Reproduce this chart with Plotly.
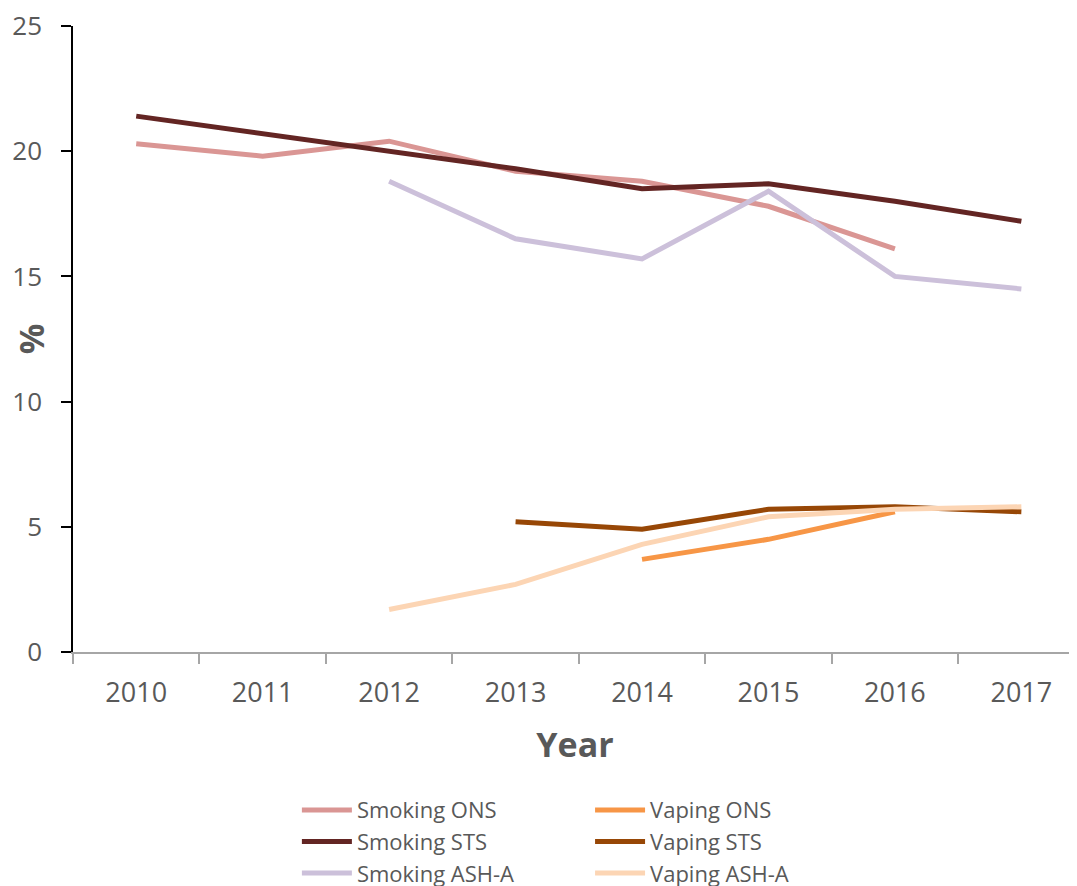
import plotly.graph_objects as go

years = ["2010", "2011", "2012", "2013", "2014", "2015", "2016", "2017"]

smoking_ons = [20.3, 19.8, 20.4, 19.2, 18.8, 17.8, 16.1, None]
smoking_sts = [21.4, 20.7, 20.0, 19.3, 18.5, 18.7, 18.0, 17.2]
smoking_ash = [None, None, 18.8, 16.5, 15.7, 18.4, 15.0, 14.5]
vaping_ons = [None, None, None, None, 3.7, 4.5, 5.6, None]
vaping_sts = [None, None, None, 5.2, 4.9, 5.7, 5.8, 5.6]
vaping_ash = [None, None, 1.7, 2.7, 4.3, 5.4, 5.7, 5.8]

# smoking series go in the left legend column, vaping in the right one
series = [
    ("Smoking ONS", smoking_ons, "#DA9694", "legend"),
    ("Smoking STS", smoking_sts, "#632523", "legend"),
    ("Smoking ASH-A", smoking_ash, "#CCC0DA", "legend"),
    ("Vaping ONS", vaping_ons, "#F79646", "legend2"),
    ("Vaping STS", vaping_sts, "#974706", "legend2"),
    ("Vaping ASH-A", vaping_ash, "#FCD5B4", "legend2"),
]

FONT = "Open Sans, DejaVu Sans, sans-serif"
TXT = "#595959"

fig = go.Figure()
for name, vals, color, leg in series:
    fig.add_trace(go.Scatter(
        x=years, y=vals, name=name, mode="lines",
        line=dict(color=color, width=5),
        connectgaps=False, legend=leg,
    ))

legend_style = dict(
    orientation="v",
    yanchor="top",
    font=dict(size=22, color=TXT, family=FONT),
    itemwidth=50,
    tracegroupgap=0,
    bgcolor="rgba(0,0,0,0)",
)

# the page body has an 8px margin, so the figure is drawn 8px in from the top-left
fig.update_layout(
    width=1069, height=878,
    margin=dict(l=65, r=0, t=18, b=234, autoexpand=False),
    paper_bgcolor="white", plot_bgcolor="white",
    font=dict(family=FONT, color=TXT),
    showlegend=True,
    legend=dict(x=0.223, y=-0.219, **legend_style),
    legend2=dict(x=0.515, y=-0.219, **legend_style),
)

fig.update_xaxes(
    type="category",
    range=[-0.5, 7.44],
    automargin=False,
    showline=True, linecolor="#A6A6A6", linewidth=1.5,
    showgrid=False, zeroline=False,
    ticks="outside", tickson="boundaries", ticklen=10, tickcolor="#A6A6A6", tickwidth=1.5,
    tickfont=dict(size=27, color=TXT, family=FONT),
    ticklabelstandoff=16,
    title=dict(text="<b>Year</b>", font=dict(size=34, color=TXT, family=FONT), standoff=24),
)

fig.update_yaxes(
    range=[0, 25], dtick=5,
    automargin=False,
    showline=True, linecolor="black", linewidth=1.5,
    showgrid=False, zeroline=False,
    ticks="outside", ticklen=10, tickcolor="black", tickwidth=1.5,
    tickfont=dict(size=26, color=TXT, family=FONT),
    ticklabelstandoff=14,
    ticklabeloverflow="allow",
    title=dict(text="<b>%</b>", font=dict(size=34, color=TXT, family=FONT), standoff=2),
)

fig.write_html("out.html")
